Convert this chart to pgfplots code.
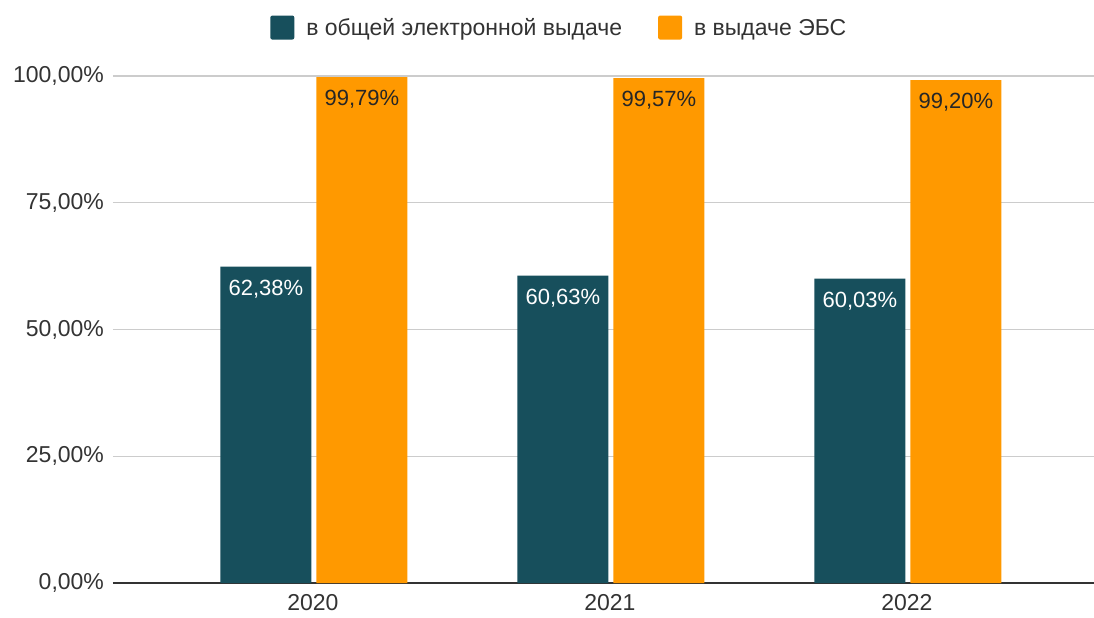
\documentclass[border=0pt]{standalone}
\usepackage{pgfplots}
\pgfplotsset{compat=1.18}
\usepackage{fontspec}
\setmainfont{Liberation Sans}
\definecolor{teal1}{HTML}{174F5C}
\definecolor{orng}{HTML}{FF9900}
\definecolor{txt}{HTML}{333333}
\begin{document}
\begin{tikzpicture}
\path[use as bounding box] (0pt,0pt) rectangle (547pt,308.5pt);
\begin{axis}[
  at={(56.5pt,17pt)}, anchor=south west,
  scale only axis, width=490.5pt, height=253.5pt,
  ybar, bar width=45.5pt,
  xmin=-0.673, xmax=2.63, ymin=0, ymax=100,
  xtick={0,1,2}, xticklabels={2020,2021,2022},
  ytick={0,25,50,75,100},
  yticklabels={{0,00\%},{25,00\%},{50,00\%},{75,00\%},{100,00\%}},
  /pgf/number format/assume math mode=true,
  ymajorgrids, grid style={draw=black!20, line width=0.6pt},
  axis x line*=bottom, axis y line*=left,
  y axis line style={draw=none},
  x axis line style={-, draw=txt, line width=0.9pt},
  tick style={draw=none},
  ticklabel style={font=\fontsize{11.5}{13}\selectfont, text=txt},
  xticklabel style={yshift=-0.5pt, inner sep=1pt},
  yticklabel style={xshift=-1pt},
  clip=false,
  point meta=explicit symbolic,
  nodes near coords,
  every node near coord/.append style={anchor=north, yshift=-3pt, font=\fontsize{11}{13}\selectfont},
  legend columns=2,
  legend style={at={(0.456,1.0)}, anchor=south, yshift=14.5pt, draw=none, font=\fontsize{11.5}{13}\selectfont, text=txt,
    /tikz/every odd column/.append style={column sep=4pt},
    /tikz/every even column/.append style={column sep=16pt}},
  legend image code/.code={\fill[#1, rounded corners=1pt] (0pt,-5.5pt) rectangle (12pt,6.5pt);},
]
\addplot[fill=teal1, draw=none, bar shift=-23.5pt, every node near coord/.append style={text=white}]
  coordinates {(0,62.38) [62,38\%] (1,60.63) [60,63\%] (2,60.03) [60,03\%]};
\addplot[fill=orng, draw=none, bar shift=24.5pt, every node near coord/.append style={text=black!85}]
  coordinates {(0,99.79) [99,79\%] (1,99.57) [99,57\%] (2,99.20) [99,20\%]};
\legend{в общей электронной выдаче, в выдаче ЭБС}
\end{axis}
\end{tikzpicture}
\end{document}
